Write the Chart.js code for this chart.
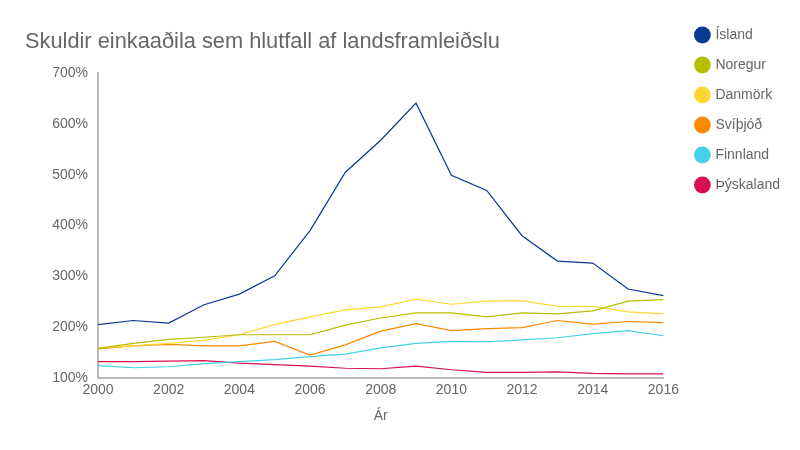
<!DOCTYPE html>
<html>
<head>
<meta charset="utf-8">
<script src="https://cdn.jsdelivr.net/npm/chart.js@4/dist/chart.umd.min.js"></script>
<style>
  html, body { margin: 0; padding: 0; background: #fff; }
  #wrap { width: 800px; height: 450px; }
</style>
</head>
<body>
<div id="wrap"><canvas id="debtChart"></canvas></div>
<script>
const years = ['2000','2001','2002','2003','2004','2005','2006','2007','2008','2009','2010','2011','2012','2013','2014','2015','2016'];

const island    = [205, 213, 208, 244, 265, 301, 390, 505, 568, 641, 499, 469, 380, 330, 326, 275, 262];
const noregur   = [158, 168, 176, 180, 185, 185, 185, 204, 218, 228, 228, 220, 228, 226, 232, 251, 254];
const danmork   = [159, 163, 168, 174, 185, 205, 220, 234, 240, 255, 245, 251, 252, 241, 241, 230, 226];
const svithjod  = [157, 163, 166, 163, 163, 172, 145, 165, 192, 207, 193, 197, 199, 213, 206, 211, 209];
const finnland  = [124, 120, 122, 128, 132, 136, 142, 147, 159, 168, 172, 171, 175, 179, 187, 193, 183];
const thyskaland = [132, 132, 133, 134, 129, 126, 123, 119, 118, 123, 116, 111, 111, 112, 109, 108, 108];

const yTicks = [100, 200, 300, 400, 500, 600, 700];

Chart.defaults.font.family = '"Liberation Sans", Arial, sans-serif';
Chart.defaults.color = '#666';

function line(label, data, color) {
    return {
        label: label,
        data: data,
        borderColor: color,
        backgroundColor: color,
        borderWidth: 1.2,
        pointRadius: 0,
        pointHoverRadius: 0,
        tension: 0,
        fill: false
    };
}

const ctx = document.getElementById('debtChart');
new Chart(ctx, {
    type: 'line',
    data: {
        labels: years,
        datasets: [
            line('Ísland', island, '#063a94'),
            line('Noregur', noregur, '#b6be00'),
            line('Danmörk', danmork, '#ffd633'),
            line('Svíþjóð', svithjod, '#ff8800'),
            line('Finnland', finnland, '#44d0ea'),
            line('Þýskaland', thyskaland, '#d9104f')
        ]
    },
    options: {
        responsive: true,
        maintainAspectRatio: false,
        animation: false,
        layout: {
            padding: { left: 25, right: 10, top: 12, bottom: 25.5 }
        },
        plugins: {
            title: {
                display: true,
                text: 'Skuldir einkaaðila sem hlutfall af landsframleiðslu',
                align: 'start',
                color: '#666',
                font: { size: 21.8, weight: 'normal' },
                padding: { top: 17, bottom: 18 }
            },
            legend: {
                position: 'right',
                align: 'start',
                labels: {
                    usePointStyle: true,
                    pointStyle: 'circle',
                    boxWidth: 12,
                    boxHeight: 11,
                    padding: 16,
                    color: '#666',
                    font: { size: 14 }
                }
            },
            tooltip: { enabled: false }
        },
        scales: {
            x: {
                grid: { display: false, drawTicks: false, tickLength: 0 },
                border: { display: true, color: '#bbb', width: 2 },
                ticks: {
                    autoSkip: false,
                    maxRotation: 0,
                    padding: 4,
                    font: { size: 14 },
                    callback: function(value, index) {
                        return index % 2 === 0 ? this.getLabelForValue(value) : '';
                    }
                },
                title: {
                    display: true,
                    text: 'Ár',
                    color: '#666',
                    font: { size: 14 },
                    padding: { top: 5, bottom: 0 }
                }
            },
            y: {
                min: yTicks[0],
                max: yTicks[yTicks.length - 1],
                grid: { display: false, drawTicks: false, tickLength: 0 },
                border: { display: true, color: '#bbb', width: 2 },
                afterBuildTicks: function(scale) {
                    scale.ticks = yTicks.map(v => ({ value: v }));
                },
                ticks: {
                    padding: 10,
                    font: { size: 14 },
                    callback: v => v + '%'
                },
                afterFit: function(scale) { scale.width = 73; }
            },
            gap: {
                type: 'linear',
                position: 'right',
                display: true,
                grid: { display: false },
                border: { display: false },
                ticks: { display: false },
                afterFit: function(scale) { scale.width = 17; }
            }
        }
    }
});
</script>
</body>
</html>
